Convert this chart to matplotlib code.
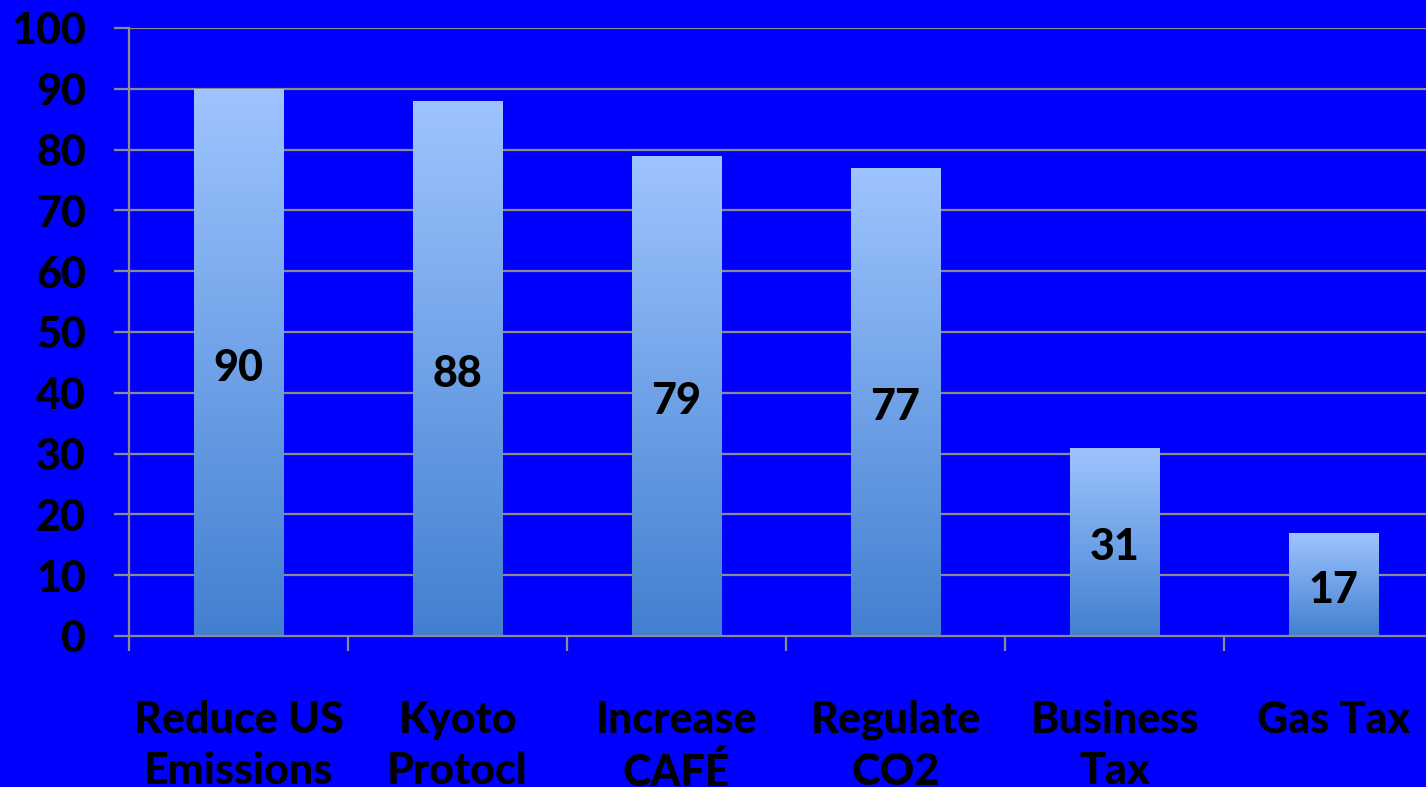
import matplotlib
matplotlib.use("Agg")
import matplotlib.pyplot as plt
import numpy as np
from matplotlib.colors import LinearSegmentedColormap
import matplotlib.transforms as mtransforms

categories = ["Reduce US\nEmissions", "Kyoto\nProtocl", "Increase\nCAFÉ", "Regulate\nCO2", "Business\nTax", "Gas Tax"]
values = [90, 88, 79, 77, 31, 17]
yticks = [0, 10, 20, 30, 40, 50, 60, 70, 80, 90, 100]

W, H = 1426, 787
fig = plt.figure(figsize=(W / 100, H / 100), dpi=100)
fig.patch.set_facecolor("#0000FF")
left, right, bottom, top = 129, 1426, 636, 28
ax = fig.add_axes([left / W, (H - bottom) / H, (right - left) / W, (bottom - top) / H])
ax.set_facecolor("#0000FF")

slot = 219.0
x = np.arange(len(categories))

grid_col = "#8C8C8C"
for v in yticks[1:]:
    ax.axhline(v, color=grid_col, lw=1.6, zorder=1)

bars = ax.bar(x, values, width=0.41, color="none", zorder=3)
cmap = LinearSegmentedColormap.from_list("g", ["#4280D0", "#9EC4FF"])
grad = np.linspace(0, 1, 256).reshape(-1, 1)
for b in bars:
    im = ax.imshow(grad, cmap=cmap, origin="lower", aspect="auto",
                   extent=[b.get_x(), b.get_x() + b.get_width(), 0, b.get_height()],
                   zorder=2)
    im.set_clip_path(b)

ax.set_xlim(-0.5, -0.5 + (right - left) / slot)
ax.set_ylim(0, 100)

font = "Lato"
wt = "black"
off = mtransforms.offset_copy(ax.transData, fig=fig, x=0, y=-4, units="points")
for xi, v in zip(x, values):
    ax.text(xi, v / 2, str(v), ha="center", va="center", fontsize=31,
            fontweight=wt, family=font, color="black", zorder=4, transform=off)

for s in ["top", "right"]:
    ax.spines[s].set_visible(False)
ax.spines["left"].set_color(grid_col)
ax.spines["bottom"].set_color(grid_col)
ax.spines["left"].set_linewidth(1.6)
ax.spines["bottom"].set_linewidth(1.6)

ax.set_yticks(yticks)
ax.set_yticklabels([str(t) for t in yticks], fontsize=31, fontweight=wt,
                   family=font, color="black")
ax.tick_params(axis="y", length=11, width=1.6, color=grid_col, pad=20)

ax.set_xticks(x)
ax.set_xticklabels(categories, fontsize=31, fontweight=wt, family=font,
                   color="black", linespacing=1.35)
ax.tick_params(axis="x", which="major", length=0, pad=46)
ax.set_xticks(np.arange(len(categories)) - 0.5, minor=True)
ax.tick_params(axis="x", which="minor", length=11, width=1.6, color=grid_col)

for lbl in ax.get_xticklabels():
    lbl.set_verticalalignment("top")

fig.savefig("out.png", dpi=100, facecolor=fig.get_facecolor())
